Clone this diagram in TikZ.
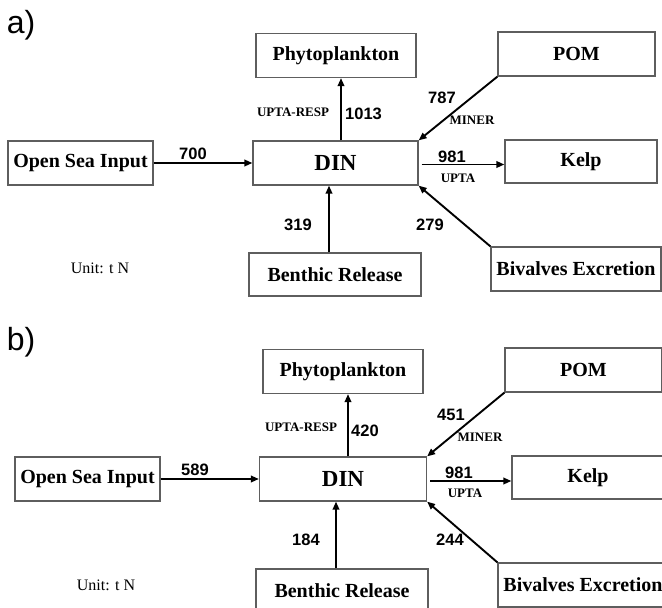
\documentclass[tikz,border=0pt]{standalone}
\usepackage{fontspec}
\setmainfont{Liberation Serif}
\newfontfamily\numfont{Liberation Sans}
\usetikzlibrary{arrows.meta}
\definecolor{edge}{HTML}{5E5E5E}
\tikzset{
  box/.style={draw=edge, line width=1.2pt, font=\fontsize{20}{22}\selectfont\bfseries,
              inner sep=0pt, minimum height=44pt},
  dinbox/.style={box, font=\fontsize{23}{25}\selectfont\bfseries},
  arr/.style={-{Triangle[length=8pt,width=6.5pt]}, line width=1.9pt},
  num/.style={font=\numfont\fontsize{16.5}{18}\selectfont\bfseries, inner sep=0pt},
  lbl/.style={font=\fontsize{13}{15}\selectfont\bfseries, inner sep=0pt},
  unit/.style={font=\fontsize{16}{18}\selectfont, inner sep=0pt},
  panel/.style={font=\numfont\fontsize{32}{34}\selectfont, inner sep=0pt},
}

\begin{document}
\begin{tikzpicture}[x=1pt, y=-1pt]
    \useasboundingbox (0,0) rectangle (662,608);
    \clip (0,0) rectangle (662,608);
    % panel a
    \node[panel] (tagA) at (21,25) {a)};
    \node[box, minimum width=145pt] (osiA)  at (80.5,163)  {Open Sea Input};
    \node[dinbox, minimum width=165pt] (dinA) at (335.5,163) {DIN};
    \node[box, minimum width=160pt] (phyA)  at (336,55.5)  {Phytoplankton};
    \node[box, minimum width=157pt] (pomA)  at (576.5,54)  {POM};
    \node[box, minimum width=152pt, minimum height=43pt] (kelpA) at (581,161.5) {Kelp};
    \node[box, minimum width=172pt, minimum height=43pt] (benA)  at (335,274.5) {Benthic Release};
    \node[box, minimum width=170pt] (bivA)  at (576,269)   {Bivalves Excretion};
    \node[unit] (unitA) at (100,268) {Unit: t N};

    \draw[arr] (osiA.east) -- (dinA.west);
    \draw[arr] ([xshift=5.5pt]dinA.north) -- ([xshift=5.5pt]dinA.north |- phyA.south);
    \draw[arr] (pomA.south west) -- (dinA.north east);
    \draw[arr] ([xshift=3pt,yshift=-1.5pt]dinA.east) -- ([yshift=-1.5pt]dinA.east -| kelpA.west);
    \draw[arr] (bivA.north west) -- (dinA.south east);
    \draw[arr] ([xshift=-6.5pt]dinA.south |- benA.north) -- ([xshift=-6.5pt]dinA.south);

    \node[num] (n700)  at (193,154) {700};
    \node[lbl] (rspA)  at (293,112) {UPTA-RESP};
    \node[num, anchor=west] (n1013) at (345,114) {1013};
    \node[num] (n787)  at (442,98)  {787};
    \node[lbl] (minA)  at (472,120) {MINER};
    \node[num] (n981a) at (452,157) {981};
    \node[lbl] (uptA)  at (458,178) {UPTA};
    \node[num] (n279)  at (430,225) {279};
    \node[num] (n319)  at (298,225) {319};

    % panel b
    \node[panel] (tagB) at (21,342) {b)};
    \begin{scope}[shift={(7,316)}]
      \node[box, minimum width=145pt] (osiB)  at (80.5,163)  {Open Sea Input};
      \node[dinbox, minimum width=167pt] (dinB) at (336,163) {DIN};
      \node[box, minimum width=160pt] (phyB)  at (336,55.5)  {Phytoplankton};
      \node[box, minimum width=157pt] (pomB)  at (576.5,54)  {POM};
      \node[box, minimum width=152pt, minimum height=43pt] (kelpB) at (581,161.5) {Kelp};
      \node[box, minimum width=172pt, minimum height=43pt] (benB)  at (335,274.5) {Benthic Release};
      \node[box, minimum width=170pt] (bivB)  at (576,269)   {Bivalves Excretion};
      \node[unit] (unitB) at (99,269) {Unit: t N};

      \draw[arr] (osiB.east) -- (dinB.west);
      \draw[arr] ([xshift=5pt]dinB.north) -- ([xshift=5pt]dinB.north |- phyB.south);
      \draw[arr] (pomB.south west) -- (dinB.north east);
      \draw[arr] ([xshift=3pt,yshift=-2pt]dinB.east) -- ([yshift=-2pt]dinB.east -| kelpB.west);
      \draw[arr] (bivB.north west) -- (dinB.south east);
      \draw[arr] ([xshift=-7pt]dinB.south |- benB.north) -- ([xshift=-7pt]dinB.south);

      \node[num] (n589)  at (188,154) {589};
      \node[lbl] (rspB)  at (294,111) {UPTA-RESP};
      \node[num, anchor=west] (n420) at (344,115) {420};
      \node[num] (n451)  at (444,99)  {451};
      \node[lbl] (minB)  at (473,121) {MINER};
      \node[num] (n981b) at (452,157) {981};
      \node[lbl] (uptB)  at (458,177) {UPTA};
      \node[num] (n244)  at (443,224) {244};
      \node[num] (n184)  at (299,224) {184};
    \end{scope}
\end{tikzpicture}
\end{document}
